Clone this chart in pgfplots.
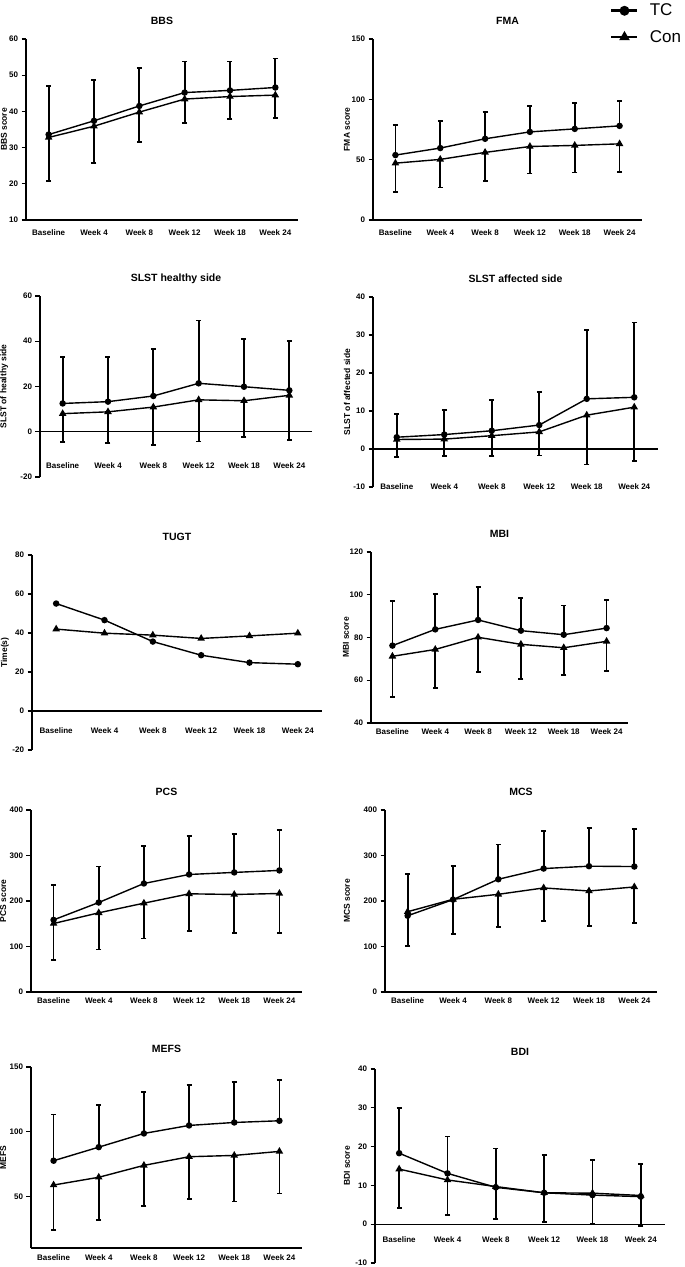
\documentclass[border=0pt]{standalone}
\usepackage{fontspec}
\setmainfont{Liberation Sans}
\usepackage{pgfplots}
\pgfplotsset{compat=1.18}
\pgfplotsset{
  gp/.style={
    scale only axis,
    axis y line=left, axis x line=bottom,
    axis line style={-, line width=1.2pt},
    xmin=-0.5, xmax=5.5,
    xtick={0,...,5},
    xticklabels={Baseline,Week 4,Week 8,Week 12,Week 18,Week 24},
    xtick style={draw=none},
    ytick style={line width=1.2pt, black},
    tick align=outside,
    major tick length=4.5pt,
    minor tick num=0,
    yticklabel style={font=\bfseries\fontsize{8}{9}\selectfont},
    xticklabel style={font=\bfseries\fontsize{8}{9}\selectfont, anchor=center},
    /pgf/number format/assume math mode=true,
    title style={font=\bfseries\fontsize{10.5}{12}\selectfont, at={(0.5,1)}, anchor=base, yshift=8pt},
    ylabel style={font=\bfseries\fontsize{8.5}{10}\selectfont, anchor=center},
    clip=false,
  },
  zeroax/.style={x axis line style={draw=none}},
  tc/.style={black, line width=1.4pt, mark=*, mark size=2.5pt,
    error bars/.cd, y dir=plus, y explicit,
    error bar style={line width=1.8pt},
    error mark options={rotate=90, line width=1.8pt, mark size=2.5pt}},
  con/.style={black, line width=1.4pt, mark=triangle*, mark size=3pt,
    error bars/.cd, y dir=minus, y explicit,
    error bar style={line width=1.8pt},
    error mark options={rotate=90, line width=1.8pt, mark size=2.5pt}},
  tcn/.style={black, line width=1.4pt, mark=*, mark size=2.5pt},
  conn/.style={black, line width=1.4pt, mark=triangle*, mark size=3pt},
}
\begin{document}
\begin{tikzpicture}
\useasboundingbox (0,0) rectangle (685pt,1267pt);

% ---------- BBS ----------
\begin{axis}[gp, at={(26pt,1047pt)}, anchor=south west, width=272pt, height=181pt,
  ymin=10, ymax=60, ytick={10,20,...,60}, title={BBS}, ylabel={BBS score},
  ylabel style={at={(axis description cs:-0.081,0.5)}},
  xticklabel style={yshift=-8pt}]
\addplot[tc] coordinates {(0,33.6)+-(0,13.5) (1,37.4)+-(0,11.2) (2,41.5)+-(0,10.4) (3,45.2)+-(0,8.6) (4,45.8)+-(0,8.0) (5,46.6)+-(0,8.0)};
\addplot[con] coordinates {(0,32.8)+-(0,12.0) (1,35.9)+-(0,10.2) (2,39.8)+-(0,8.2) (3,43.4)+-(0,6.6) (4,44.1)+-(0,6.3) (5,44.5)+-(0,6.4)};
\end{axis}

% ---------- FMA ----------
\begin{axis}[gp, at={(373pt,1047pt)}, anchor=south west, width=269pt, height=181pt,
  ymin=0, ymax=150, ytick={0,50,100,150}, title={FMA}, ylabel={FMA score},
  ylabel style={at={(axis description cs:-0.097,0.5)}},
  xticklabel style={yshift=-8pt},
  legend style={at={(axis description cs:0.881,1.205)}, anchor=north west, draw=none, fill=none,
    font=\fontsize{17}{19}\selectfont, row sep=9pt, column sep=9pt, inner sep=0pt, cells={anchor=west}},
  legend image code/.code={\draw[#1, line width=2.6pt, mark size=3.6pt, mark repeat=2, mark phase=2] plot coordinates {(0pt,0pt) (13pt,0pt) (26pt,0pt)};}]
\addplot[tc] coordinates {(0,53.8)+-(0,25.2) (1,59.6)+-(0,22.6) (2,67.3)+-(0,22.3) (3,73.0)+-(0,21.6) (4,75.5)+-(0,21.5) (5,78.0)+-(0,20.7)};
\addlegendentry{TC}
\addplot[con] coordinates {(0,47.1)+-(0,23.9) (1,50.2)+-(0,23.2) (2,56.0)+-(0,23.5) (3,60.9)+-(0,22.3) (4,61.8)+-(0,22.4) (5,63.1)+-(0,23.4)};
\addlegendentry{Con}
\end{axis}

% ---------- SLST healthy ----------
\begin{axis}[gp, zeroax, at={(40pt,790pt)}, anchor=south west, width=272pt, height=181pt,
  ymin=-20, ymax=60, ytick={-20,0,20,40,60}, title={SLST healthy side}, ylabel={SLST of healthy side},
  ylabel style={at={(axis description cs:-0.132,0.5)}},
  xticklabel style={yshift=16pt}]
\draw[line width=1.2pt] (axis cs:-0.5,0) -- (axis cs:5.5,0);
\addplot[tc] coordinates {(0,12.5)+-(0,20.5) (1,13.3)+-(0,19.7) (2,15.8)+-(0,20.6) (3,21.4)+-(0,27.8) (4,19.9)+-(0,21.2) (5,18.3)+-(0,21.8)};
\addplot[con] coordinates {(0,8.0)+-(0,12.6) (1,8.8)+-(0,13.8) (2,10.9)+-(0,16.9) (3,14.1)+-(0,18.4) (4,13.7)+-(0,16.2) (5,16.1)+-(0,19.9)};
\end{axis}

% ---------- SLST affected ----------
\begin{axis}[gp, zeroax, at={(373pt,780pt)}, anchor=south west, width=285pt, height=190pt,
  ymin=-10, ymax=40, ytick={-10,0,10,20,30,40}, title={SLST affected side}, ylabel={SLST of affected side},
  ylabel style={at={(axis description cs:-0.091,0.5)}},
  xticklabel style={yshift=5pt}]
\draw[line width=1.2pt] (axis cs:-0.5,0) -- (axis cs:5.5,0);
\addplot[tc] coordinates {(0,3.1)+-(0,6.1) (1,3.8)+-(0,6.5) (2,4.8)+-(0,8.1) (3,6.3)+-(0,8.8) (4,13.2)+-(0,18.2) (5,13.6)+-(0,19.7)};
\addplot[con] coordinates {(0,2.5)+-(0,4.6) (1,2.6)+-(0,4.5) (2,3.5)+-(0,5.3) (3,4.5)+-(0,6.2) (4,8.9)+-(0,13.0) (5,11.0)+-(0,14.2)};
\end{axis}

% ---------- TUGT ----------
\begin{axis}[gp, zeroax, at={(32pt,517pt)}, anchor=south west, width=290pt, height=195pt,
  ymin=-20, ymax=80, ytick={-20,0,20,40,60,80}, title={TUGT}, ylabel={Time(s)},
  ylabel style={at={(axis description cs:-0.093,0.5)}},
  xticklabel style={yshift=24pt}]
\draw[line width=1.2pt] (axis cs:-0.5,0) -- (axis cs:5.5,0);
\addplot[tcn] coordinates {(0,55.1) (1,46.6) (2,35.6) (3,28.6) (4,24.8) (5,24.0)};
\addplot[conn] coordinates {(0,42.0) (1,39.9) (2,38.9) (3,37.2) (4,38.5) (5,39.9)};
\end{axis}

% ---------- MBI ----------
\begin{axis}[gp, at={(371pt,544pt)}, anchor=south west, width=257pt, height=171pt,
  ymin=40, ymax=120, ytick={40,60,...,120}, title={MBI}, ylabel={MBI score},
  ylabel style={at={(axis description cs:-0.097,0.5)}},
  xticklabel style={yshift=-4pt}]
\addplot[tc] coordinates {(0,76.2)+-(0,20.9) (1,83.8)+-(0,16.4) (2,88.2)+-(0,15.3) (3,83.2)+-(0,15.4) (4,81.3)+-(0,13.7) (5,84.4)+-(0,13.1)};
\addplot[con] coordinates {(0,71.2)+-(0,19.2) (1,74.4)+-(0,17.9) (2,80.1)+-(0,16.4) (3,76.8)+-(0,16.1) (4,75.2)+-(0,12.9) (5,78.2)+-(0,13.7)};
\end{axis}

% ---------- PCS ----------
\begin{axis}[gp, at={(31pt,275pt)}, anchor=south west, width=271pt, height=182pt,
  ymin=0, ymax=400, ytick={0,100,...,400}, title={PCS}, ylabel={PCS score},
  ylabel style={at={(axis description cs:-0.103,0.5)}},
  xticklabel style={yshift=-4.5pt}]
\addplot[tc] coordinates {(0,158.5)+-(0,77.1) (1,196.7)+-(0,79.3) (2,238.5)+-(0,83.0) (3,258.3)+-(0,84.5) (4,262.8)+-(0,85.1) (5,267.2)+-(0,88.8)};
\addplot[con] coordinates {(0,150.5)+-(0,79.3) (1,174.0)+-(0,80.8) (2,195.2)+-(0,77.8) (3,215.8)+-(0,82.2) (4,214.3)+-(0,85.1) (5,216.5)+-(0,87.3)};
\end{axis}

% ---------- MCS ----------
\begin{axis}[gp, at={(385pt,275pt)}, anchor=south west, width=272pt, height=182pt,
  ymin=0, ymax=400, ytick={0,100,...,400}, title={MCS}, ylabel={MCS score},
  ylabel style={at={(axis description cs:-0.140,0.5)}},
  xticklabel style={yshift=-4.5pt}]
\addplot[tc] coordinates {(0,167.6)+-(0,92.0) (1,203.0)+-(0,74.2) (2,247.8)+-(0,76.5) (3,271.3)+-(0,83.1) (4,276.5)+-(0,83.1) (5,275.7)+-(0,83.1)};
\addplot[con] coordinates {(0,176.5)+-(0,75.8) (1,203.7)+-(0,76.5) (2,214.7)+-(0,72.1) (3,228.7)+-(0,72.1) (4,222.0)+-(0,77.1) (5,230.9)+-(0,79.4)};
\end{axis}

% ---------- MEFS ----------
\begin{axis}[gp, at={(31pt,19pt)}, anchor=south west, width=271pt, height=181pt,
  ymin=10, ymax=150, ytick={50,100,150}, title={MEFS}, ylabel={MEFS},
  ylabel style={at={(axis description cs:-0.103,0.5)}},
  xticklabel style={yshift=-5pt}]
\addplot[tc] coordinates {(0,77.5)+-(0,35.7) (1,88.0)+-(0,32.7) (2,98.6)+-(0,31.9) (3,104.8)+-(0,31.3) (4,107.1)+-(0,31.6) (5,108.4)+-(0,31.3)};
\addplot[con] coordinates {(0,58.7)+-(0,34.7) (1,64.7)+-(0,33.2) (2,73.9)+-(0,31.6) (3,80.6)+-(0,32.7) (4,81.6)+-(0,35.7) (5,84.7)+-(0,32.6)};
\end{axis}

% ---------- BDI ----------
\begin{axis}[gp, zeroax, at={(375pt,4pt)}, anchor=south west, width=290pt, height=194pt,
  ymin=-10, ymax=40, ytick={-10,0,10,20,30,40}, title={BDI}, ylabel={BDI score},
  ylabel style={at={(axis description cs:-0.097,0.5)}},
  xticklabel style={yshift=28pt}]
\draw[line width=1.2pt] (axis cs:-0.5,0) -- (axis cs:5.5,0);
\addplot[tc] coordinates {(0,18.3)+-(0,11.7) (1,13.1)+-(0,9.5) (2,9.5)+-(0,10.0) (3,8.1)+-(0,9.8) (4,7.5)+-(0,9.1) (5,7.1)+-(0,8.4)};
\addplot[con] coordinates {(0,14.2)+-(0,10.1) (1,11.4)+-(0,9.0) (2,9.7)+-(0,8.4) (3,8.1)+-(0,7.5) (4,8.0)+-(0,8.0) (5,7.4)+-(0,7.8)};
\end{axis}
\end{tikzpicture}
\end{document}
